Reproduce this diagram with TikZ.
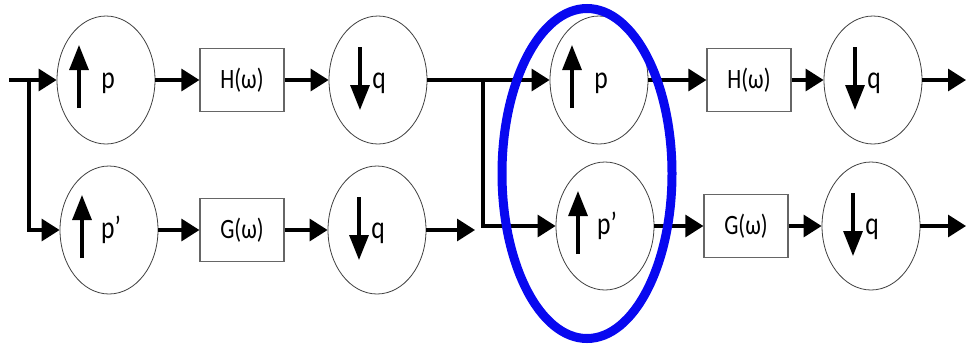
\documentclass[tikz,border=0pt]{standalone}
\usepackage{fontspec}
\setmainfont{Carlito}
\newfontfamily\narrowfont[FakeStretch=0.8]{Carlito}
\usetikzlibrary{arrows.meta,shapes.geometric}
\definecolor{ringblue}{RGB}{8,8,240}

\begin{document}
\begin{tikzpicture}[x=1pt,y=-1pt,
  unit/.style={ellipse, draw=black!75, line width=0.8pt, fill=white,
    minimum width=98pt, minimum height=128pt, inner sep=0pt},
  filt/.style={rectangle, draw=black!60, line width=1.2pt, fill=white,
    minimum width=84pt, minimum height=63pt, inner sep=0pt,
    font=\narrowfont\fontsize{28}{30}\selectfont},
  flow/.style={line width=3.2pt, -{Triangle[length=18pt,width=22pt]}},
  spin/.style={line width=3.2pt, -{Triangle[length=25pt,width=19pt]}},
  lbl/.style={font=\narrowfont\fontsize{32}{34}\selectfont, inner sep=0pt, anchor=base},
  group/.style={ellipse, draw=ringblue, line width=9pt,
    minimum width=170pt, minimum height=330pt, inner sep=0pt},
]
\useasboundingbox (0,0) rectangle (966,349);

% first stage
\node[unit] (c1) at (106,80) {};
\node[unit] (c2) at (109,230) {};
\node[filt] (h1) at (242,80) {H(ω)};
\node[filt] (g1) at (242,230) {G(ω)};
\node[unit] (c3) at (378,80) {};
\node[unit] (c4) at (377,230) {};

% second stage
\node[unit] (c5) at (599,80) {};
\node[unit] (c7) at (605,226) {};
\node[filt] (h2) at (749,80) {H(ω)};
\node[filt] (g2) at (746,226) {G(ω)};
\node[unit] (c6) at (873,80) {};
\node[unit] (c8) at (871,226) {};

% spin arrows and labels inside the units
\foreach \u/\t in {c1/p, c2/p’, c5/p, c7/p’}{
  \draw[spin] ([shift={(-27,28)}]\u.center) -- ([shift={(-27,-35)}]\u.center);
  \node[lbl] at ([shift={(2,8)}]\u.center) {\t};
}
\foreach \u in {c3, c4, c6, c8}{
  \draw[spin] ([shift={(-18,-33)}]\u.center) -- ([shift={(-18,30)}]\u.center);
  \node[lbl] at ([shift={(1,8)}]\u.center) {q};
}

% wiring
\coordinate (in) at (9,80);
\coordinate (s1) at (29,80);
\coordinate (s2) at (483,80);
\coordinate (o1) at (475,230);
\coordinate (o2) at (966,80);
\coordinate (o3) at (966,226);

\draw[flow] (in) -- (c1.west);
\draw[flow] (s1) |- (c2.west);
\draw[flow] (c1.east) -- (h1.west);
\draw[flow] (h1.east) -- (c3.west);
\draw[flow] (c2.east) -- (g1.west);
\draw[flow] (g1.east) -- (c4.west);
\draw[flow] (c4.east) -- (o1);
\draw[flow] (c3.east) -- (c5.west);
\draw[flow] (s2) |- (c7.west);
\draw[flow] (c5.east) -- (h2.west);
\draw[flow] (h2.east) -- (c6.west);
\draw[flow] (c6.east) -- (o2);
\draw[flow] (c7.east) -- (g2.west);
\draw[flow] (g2.east) -- (c8.west);
\draw[flow] (c8.east) -- (o3);

% highlighted pair
\node[group] (grp) at (587,173.5) {};
\end{tikzpicture}
\end{document}
